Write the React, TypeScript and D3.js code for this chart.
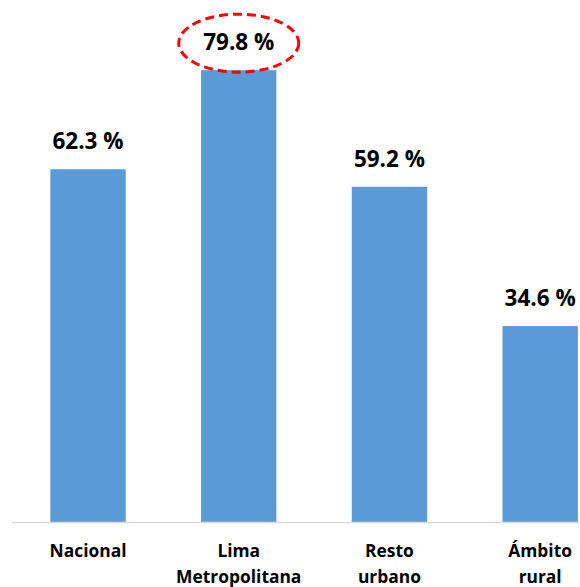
import React from "react";
import * as d3 from "d3";

const categories: string[][] = [["Nacional"], ["Lima", "Metropolitana"], ["Resto", "urbano"], ["Ámbito", "rural"]];
const values: number[] = [62.3, 79.8, 59.2, 34.6];
const valueLabels: string[] = ["62.3 %", "79.8 %", "59.2 %", "34.6 %"];
const highlightIndex = 1;

export default function App() {
  const W = 580, H = 587;
  const baseY = 522;
  const keys = categories.map((c) => c.join(" "));
  const x = d3.scaleBand<string>().domain(keys).range([12.7, 615.5]).paddingInner(0.5).paddingOuter(0.25);
  const y = d3.scaleLinear().domain([0, 80]).range([baseY, 69]);
  const font = "'Open Sans', Lato, sans-serif";
  return (
    <svg width={W} height={H} style={{ position: "absolute", left: 0, top: 0 }}>
      {values.map((v, i) => {
        const k = keys[i];
        const x0 = x(k)!;
        const cx = x0 + x.bandwidth() / 2;
        return (
          <g key={k}>
            <rect x={x0} y={y(v)} width={x.bandwidth()} height={baseY - y(v)} fill="#5B9BD5" />
            <text x={cx} y={y(v) - 20} textAnchor="middle" fontFamily={font} fontWeight="bold" fontSize={22.5} fill="#000">
              {valueLabels[i]}
            </text>
            {i === highlightIndex && (
              <ellipse cx={cx} cy={y(v) - 27} rx={60} ry={29} fill="none" stroke="#FF0000" strokeWidth={3} strokeDasharray="9 5" />
            )}
            {categories[i].map((line, j) => (
              <text key={j} x={cx} y={557 + j * 26} textAnchor="middle" fontFamily={font} fontWeight="bold" fontSize={17.4} fill="#000">
                {line}
              </text>
            ))}
          </g>
        );
      })}
      <line x1={12} x2={580} y1={baseY + 0.5} y2={baseY + 0.5} stroke="#D9D9D9" strokeWidth={1.5} />
    </svg>
  );
}
